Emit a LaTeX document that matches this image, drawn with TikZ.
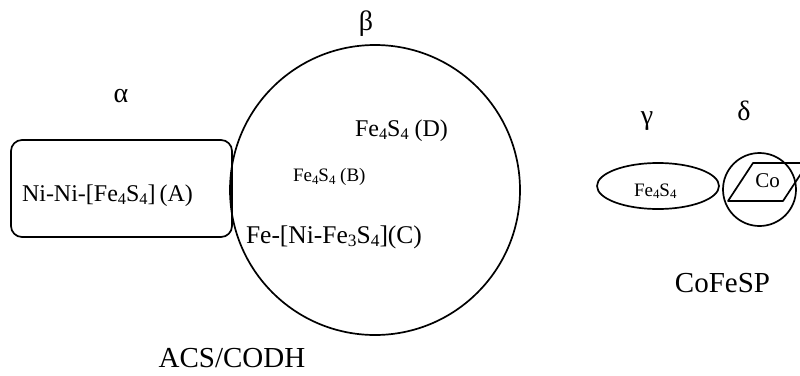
\documentclass[tikz,border=0pt]{standalone}
\usepackage{fontspec}
\setmainfont{Liberation Serif}
\usepackage{tikz}
\usetikzlibrary{positioning, arrows.meta, shapes.geometric}

\newcommand{\fs}[1]{\fontsize{#1}{#1}\selectfont}
\newcommand{\lowsub}[1]{\raisebox{-0.32ex}{\scalebox{0.68}{#1}}}

\begin{document}
\begin{tikzpicture}[
  x=1pt, y=-1pt,
  every node/.style={inner sep=0pt, outer sep=0pt},
  sub/.style={line width=1.7pt},
  lb/.style={font=\fs{24}, anchor=base west},
  sm/.style={font=\fs{19}, anchor=base west},
  gk/.style={font=\fs{28}},
  nm/.style={font=\fs{29}, anchor=base},
]
\useasboundingbox (0,0) rectangle (800,375);

% ACS/CODH - alpha subunit
\node[sub, draw, rounded corners=11pt, minimum width=221pt, minimum height=97pt] (alpha) at (121.5,188.5) {};
\node[gk] (alab) at (121,96) {α};
\node[lb] (clA) at (22,201) {Ni-Ni-[Fe\lowsub{4}S\lowsub{4}]\,(A)};

% ACS/CODH - beta subunit
\node[sub, draw, circle, minimum size=290pt] (beta) at (375,190) {};
\node[gk] (blab) at (366,24) {β};
\node[lb] (clD) at (355,136) {Fe\lowsub{4}S\lowsub{4} (D)};
\node[sm] (clB) at (293,181.5) {Fe\lowsub{4}S\lowsub{4} (B)};
\node[lb, font=\fs{25.5}] (clC) at (246,243) {Fe-[Ni-Fe\lowsub{3}S\lowsub{4}](C)};
\node[nm] (acs) at (232,367) {ACS/CODH};

% CoFeSP - gamma and delta
\node[sub, draw, ellipse, minimum width=122pt, minimum height=46pt] (gamma) at (658,186) {};
\node[gk] (glab) at (647,121) {γ};
\node[sm] (clG) at (634,196) {Fe\lowsub{4}S\lowsub{4}};
\node[sub, draw, circle, minimum size=73pt] (delta) at (759.5,189.5) {};
\node[gk] (dlab) at (744,111) {δ};
\draw[sub, line join=round] (728,201) -- (753,163) -- (808,163) -- (783,201) -- cycle;
\node[font=\fs{21}] (co) at (767.5,181) {Co};
\node[nm] (cofesp) at (722.5,292) {CoFeSP};
\end{tikzpicture}
\end{document}
